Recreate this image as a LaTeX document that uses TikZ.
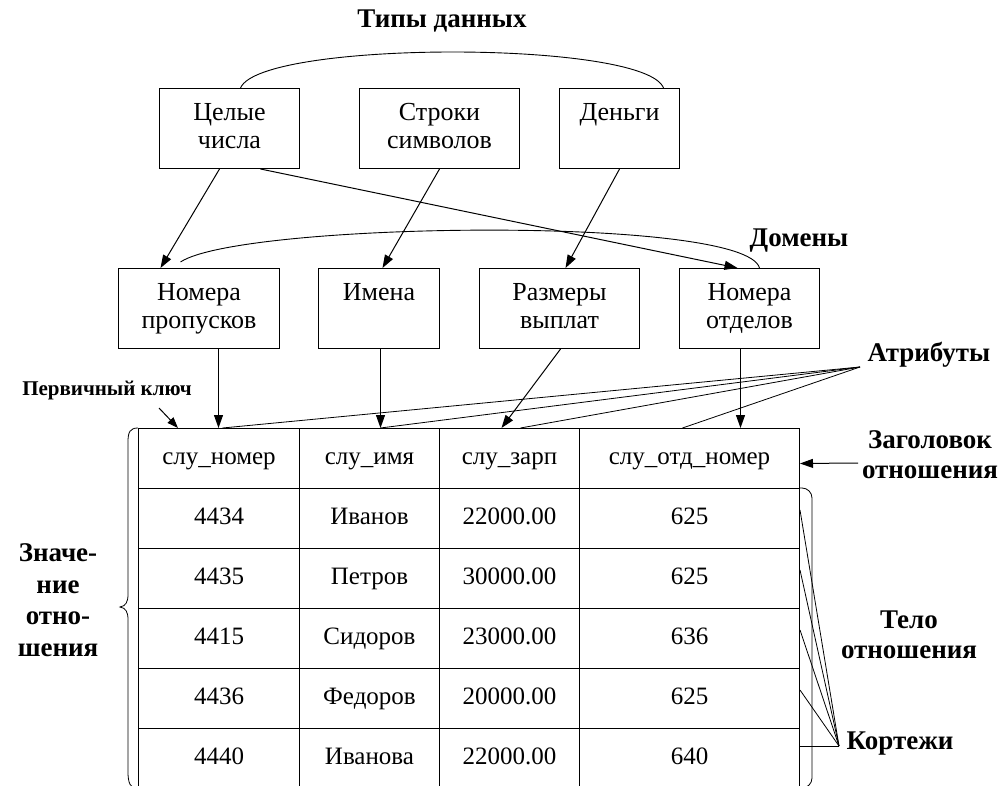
\documentclass[tikz,border=0pt]{standalone}
\usepackage{fontspec}
\setmainfont{Liberation Serif}
\usetikzlibrary{arrows.meta,calc}
\begin{document}
\begin{tikzpicture}[x=1pt,y=-1pt,
  line width=0.9pt,
  box/.style={draw, line width=1pt, inner sep=0pt, align=center, anchor=north west,
    minimum height=80pt, font=\fontsize{26}{28}\selectfont},
  cell/.style={draw, line width=1pt, inner sep=0pt, anchor=north west,
    minimum height=60pt, text height=17pt, text depth=5pt, font=\fontsize{25}{28}\selectfont},
  lbl/.style={inner sep=0pt, align=center, font=\bfseries\fontsize{27}{30}\selectfont},
  arr/.style={-{Triangle[length=13pt,width=9pt]}, line width=1pt},
  thinline/.style={line width=0.8pt}
]
\useasboundingbox[fill=white] (0,0) rectangle (1007,786);

% data types
\node[lbl] (title) at (442,21) {Типы данных};
\node[box, minimum width=140pt] (celye) at (159,88) {\strut Целые\\\strut числа};
\node[box, minimum width=160pt] (stroki) at (359,88) {\strut Строки\\\strut символов};
\node[box, minimum width=120pt] (dengi) at (559,88) {\strut Деньги\\\strut};
\draw ([xshift=11pt]celye.north) .. controls +(20,-48) and +(-18,-48) .. ([xshift=44pt]dengi.north);

% domains
\node[lbl] (domeny) at (799,241) {Домены};
\node[box, minimum width=161pt] (nprop) at (118,268) {\strut Номера\\\strut пропусков};
\node[box, minimum width=121pt] (imena) at (318,268) {\strut Имена\\\strut};
\node[box, minimum width=160pt] (razm) at (479,268) {\strut Размеры\\\strut выплат};
\node[box, minimum width=140pt] (notd) at (679,268) {\strut Номера\\\strut отделов};
\draw ([xshift=-18.5pt,yshift=6pt]nprop.north) .. controls +(60,-40) and +(-14,-53) .. ([xshift=10pt]notd.north);

\draw[arr] ([xshift=-10pt]celye.south) -- ([xshift=-38.5pt]nprop.north);
\draw[arr] ([xshift=31pt]celye.south) -- ([xshift=-12pt]notd.north);
\draw[arr] (stroki.south) -- ([xshift=3.5pt]imena.north);
\draw[arr] (dengi.south) -- ([xshift=6pt]razm.north);

% table
\foreach \r/\a/\b/\c/\d in {0/слу\_номер/слу\_имя/слу\_зарп/слу\_отд\_номер,
  1/4434/Иванов/22000.00/625, 2/4435/Петров/30000.00/625,
  3/4415/Сидоров/23000.00/636, 4/4436/Федоров/20000.00/625,
  5/4440/Иванова/22000.00/640}{
  \node[cell, minimum width=161pt] (c\r-1) at (138,{428+60*\r}) {\a};
  \node[cell, minimum width=140pt] (c\r-2) at (299,{428+60*\r}) {\b};
  \node[cell, minimum width=140pt] (c\r-3) at (439,{428+60*\r}) {\c};
  \node[cell, minimum width=220pt] (c\r-4) at (579,{428+60*\r}) {\d};
}

\draw[arr] ([xshift=19.5pt]nprop.south) -- ([xshift=-0.5pt]c0-1.north);
\draw[arr] ([xshift=1.5pt]imena.south) -- ([xshift=11pt]c0-2.north);
\draw[arr] ([xshift=1pt]razm.south) -- ([xshift=-8pt]c0-3.north);
\draw[arr] ([xshift=-9pt]notd.south) -- ([xshift=51pt]c0-4.north);

% attributes
\node[lbl] (atr) at (929,355) {Атрибуты};
\coordinate (ap) at (860,367);
\draw[thinline] (ap) -- ([xshift=3.5pt]c0-1.north);
\draw[thinline] (ap) -- ([xshift=11pt]c0-2.north);
\draw[thinline] (ap) -- ([xshift=11pt]c0-3.north);
\draw[thinline] (ap) -- ([xshift=-7pt]c0-4.north);

% primary key
\node[lbl, font=\bfseries\fontsize{21}{24}\selectfont] (pk) at (107,391) {Первичный ключ};
\coordinate (pks) at (159,408);
\draw[arr, -{Triangle[length=11pt,width=8pt]}] (pks) -- ([xshift=40pt]c0-1.north west);

% header label
\node[lbl] (zag) at (930,455) {Заголовок\\отношения};
\coordinate (zs) at (858,463);
\draw[arr] (zs) -- ([yshift=-5pt]c0-4.east);

% value of relation brace
\node[lbl, font=\bfseries\fontsize{27}{31.5}\selectfont] (znach) at (58,600) {Значе-\\ние\\отно-\\шения};
\draw[thinline] (c0-1.north west) .. controls +(-8,0) and +(0,-10) .. (128,442)
  -- (128,594) .. controls (128,602) and (126,606) .. (120,607)
  .. controls (126,608) and (128,612) .. (128,620)
  -- (128,772) .. controls +(0,10) and +(-8,0) .. (c5-1.south west);

% body of relation
\node[lbl] (telo) at (909,635) {Тело\\отношения};
\draw[thinline, rounded corners=10pt] (c1-4.north east) -- ++(12,0) -- ++(0,300) -- ++(-12,0);

% tuples
\node[lbl] (kort) at (900,744) {Кортежи};
\coordinate (kp) at (839,746);
\foreach \r in {1,2,3,4}{
  \draw[thinline] (kp) -- ([yshift=-22pt]c\r-4.north east);
}
\draw[thinline] (kp) -- ([yshift=-18pt]c5-4.north east);
\end{tikzpicture}
\end{document}
